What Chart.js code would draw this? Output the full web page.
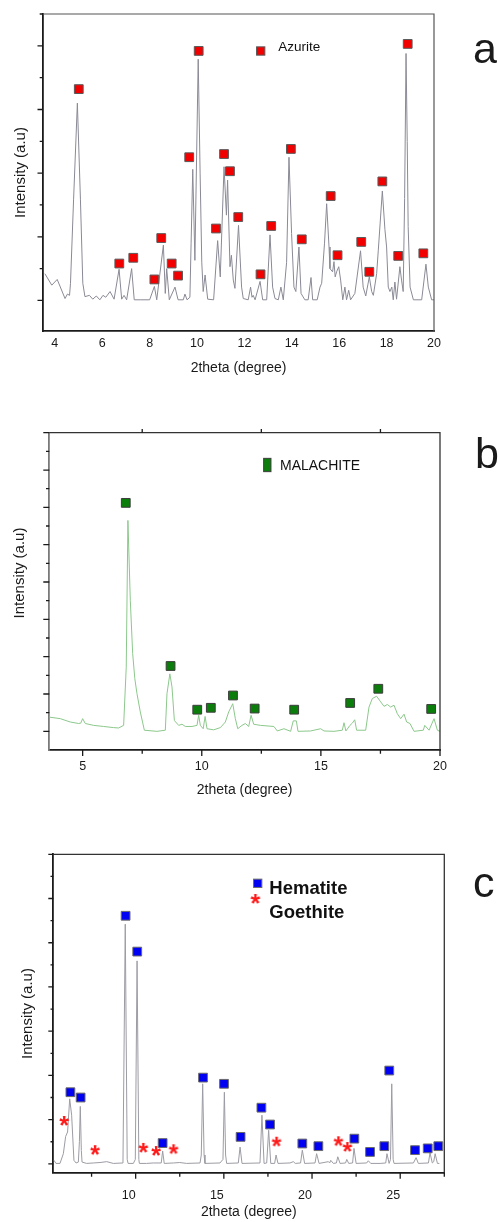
<!DOCTYPE html>
<html>
<head>
<meta charset="utf-8">
<title>XRD patterns</title>
<script src="https://cdn.jsdelivr.net/npm/chart.js@4.4.1/dist/chart.umd.min.js"></script>
<style>
  body { margin: 0; background: #fff; }
  #wrap { position: relative; width: 500px; height: 1222px; }
  canvas { position: absolute; left: 0; }
</style>
</head>
<body>
<div id="wrap">
  <canvas id="chartA" width="500" height="395" style="top:0"></canvas>
  <canvas id="chartB" width="500" height="420" style="top:395px"></canvas>
  <canvas id="chartC" width="500" height="407" style="top:815px"></canvas>
</div>
<script>
// ---- panel a : azurite ----
const azuriteTheta = [
  3.58, 3.87, 4.10, 4.43, 4.53, 4.62, 4.66, 4.79, 4.95, 5.08, 5.18, 5.27, 5.46, 5.60, 5.75, 5.90,
  6.03, 6.15, 6.33, 6.50, 6.71, 6.82, 6.92, 7.03, 7.24, 7.35, 7.60, 8.00, 8.20, 8.30, 8.58, 8.66,
  8.72, 8.83, 9.07, 9.20, 9.42, 9.49, 9.58, 9.70, 9.75, 9.82, 9.91, 10.05, 10.13, 10.20, 10.26, 10.34,
  10.45, 10.70, 10.87, 10.98, 11.14, 11.24, 11.29, 11.39, 11.45, 11.53, 11.60, 11.75, 11.88, 11.95, 12.16, 12.26,
  12.32, 12.37, 12.45, 12.66, 12.77, 12.94, 13.08, 13.19, 13.29, 13.43, 13.54, 13.64, 13.78, 13.88, 13.99, 14.09,
  14.17, 14.30, 14.39, 14.55, 14.69, 14.81, 14.88, 15.07, 15.19, 15.26, 15.38, 15.47, 15.57, 15.61, 15.72, 15.78,
  15.83, 15.89, 15.98, 16.06, 16.15, 16.24, 16.31, 16.40, 16.48, 16.66, 16.90, 17.01, 17.12, 17.27, 17.37, 17.44,
  17.58, 17.65, 17.82, 17.93, 18.00, 18.07, 18.14, 18.22, 18.28, 18.35, 18.42, 18.56, 18.63, 18.70, 18.76, 18.82,
  18.87, 18.91, 18.99, 19.13, 19.48, 19.66, 19.76, 19.90, 20.00
];
const azuriteCounts = [
  0.42, 0.24, 0.33, 0.03, 0.10, 0.08, 0.27, 1.58, 3.10, 1.58, 0.27, 0.06, 0.08, 0.02, 0.07, 0.01,
  0.08, 0.05, 0.14, 0.02, 0.49, 0.02, 0.08, 0.01, 0.50, 0.01, 0.01, 0.01, 0.22, 0.01, 0.87, 0.11,
  0.50, 0.01, 0.21, 0.01, 0.01, 0.10, 0.01, 0.05, 0.90, 2.06, 0.63, 3.79, 2.00, 0.60, 0.14, 0.40,
  0.02, 0.01, 0.94, 0.37, 2.10, 1.34, 1.89, 0.53, 0.71, 0.32, 0.19, 1.18, 0.21, 0.03, 0.01, 0.21,
  0.05, 0.08, 0.01, 0.30, 0.01, 0.01, 1.03, 0.21, 0.03, 0.01, 0.21, 0.01, 0.60, 2.25, 1.05, 0.21,
  0.14, 0.84, 0.11, 0.01, 0.01, 0.36, 0.01, 0.01, 0.21, 0.27, 0.90, 1.52, 0.84, 0.50, 0.45, 0.61,
  0.37, 0.45, 0.53, 0.32, 0.01, 0.21, 0.01, 0.16, 0.01, 0.11, 0.78, 0.21, 0.07, 0.37, 0.14, 0.08,
  0.42, 0.79, 1.72, 1.11, 0.84, 0.21, 0.14, 0.21, 0.01, 0.29, 0.02, 0.53, 0.32, 0.14, 1.60, 3.88,
  2.50, 1.16, 0.21, 0.01, 0.01, 0.57, 0.21, 0.01, 0.01
];
const azuriteMarkTheta = [5.01, 6.72, 7.31, 8.20, 8.49, 8.93, 9.20, 9.67, 10.07, 10.80, 11.14, 11.39, 11.74,
  12.68, 13.13, 13.96, 14.42, 15.64, 15.93, 16.93, 17.27, 17.82, 18.49, 18.89, 19.55];
const azuriteMarkCounts = [3.32, 0.58, 0.67, 0.33, 0.98, 0.58, 0.39, 2.25, 3.92, 1.13, 2.30, 2.03, 1.31,
  0.41, 1.17, 2.38, 0.96, 1.64, 0.71, 0.92, 0.45, 1.87, 0.70, 4.03, 0.74];

// ---- panel b : malachite ----
const malachiteTheta = [
  3.61, 4.06, 4.48, 4.83, 4.92, 5.00, 5.11, 5.46, 5.88, 6.30, 6.51, 6.72, 6.83, 6.90, 7.00, 7.10,
  7.19, 7.28, 7.42, 7.59, 8.12, 8.47, 8.54, 8.66, 8.75, 8.85, 9.03, 9.17, 9.31, 9.59, 9.80, 9.87,
  9.94, 10.06, 10.14, 10.22, 10.50, 10.78, 10.99, 11.13, 11.30, 11.41, 11.51, 11.69, 11.83, 11.97, 12.07, 12.18,
  12.46, 13.03, 13.17, 13.45, 13.73, 13.84, 13.97, 14.04, 14.57, 14.99, 15.13, 15.55, 15.90, 15.97, 16.05, 16.22,
  16.32, 16.42, 16.50, 16.88, 17.02, 17.16, 17.34, 17.51, 17.65, 17.79, 17.93, 18.07, 18.21, 18.35, 18.49, 18.60,
  18.74, 18.91, 19.30, 19.36, 19.54, 19.75, 19.89, 20.00
];
const malachiteCounts = [
  0.38, 0.34, 0.25, 0.21, 0.22, 0.34, 0.21, 0.16, 0.13, 0.10, 0.09, 0.16, 1.72, 5.65, 3.51, 2.08,
  1.41, 1.01, 0.52, 0.03, 0.00, 0.03, 1.01, 1.54, 1.19, 0.29, 0.16, 0.19, 0.13, 0.13, 0.16, 0.43,
  0.16, 0.07, 0.40, 0.07, 0.04, 0.10, 0.25, 0.52, 0.74, 0.34, 0.07, 0.16, 0.21, 0.13, 0.43, 0.19,
  0.16, 0.13, 0.01, 0.07, 0.00, 0.28, 0.28, 0.00, 0.01, 0.07, 0.01, 0.00, 0.03, 0.23, 0.01, 0.16,
  0.22, 0.31, 0.03, 0.03, 0.65, 0.88, 0.94, 0.79, 0.67, 0.72, 0.65, 0.70, 0.47, 0.34, 0.46, 0.25,
  0.21, 0.00, 0.03, 0.16, 0.03, 0.34, 0.03, 0.00
];
const malachiteMarkTheta = [6.81, 8.69, 9.81, 10.38, 11.31, 12.22, 13.88, 16.23, 17.41, 19.63];
const malachiteMarkCounts = [6.12, 1.75, 0.58, 0.63, 0.96, 0.61, 0.58, 0.76, 1.14, 0.60];

// ---- panel c : hematite / goethite ----
const ironTheta = [
  5.37, 5.48, 5.71, 5.90, 6.03, 6.14, 6.26, 6.37, 6.50, 6.62, 6.75, 6.81, 6.86, 6.92, 6.96, 7.22,
  7.60, 7.98, 8.36, 8.73, 9.28, 9.41, 9.52, 9.57, 9.87, 9.98, 10.08, 10.18, 10.21, 10.62, 11.00, 11.45,
  11.53, 11.62, 12.14, 12.50, 12.89, 13.65, 13.72, 13.80, 13.88, 13.93, 14.78, 14.95, 15.03, 15.10, 15.16, 15.82,
  15.92, 16.03, 17.05, 17.16, 17.28, 17.43, 17.54, 17.66, 17.88, 17.96, 18.07, 18.75, 18.94, 19.05, 19.35, 19.45,
  19.58, 20.17, 20.26, 20.40, 20.93, 21.00, 21.06, 21.21, 21.38, 21.46, 21.59, 21.90, 21.97, 22.08, 22.30, 22.38,
  22.50, 23.10, 23.19, 23.33, 23.86, 24.18, 24.25, 24.37, 24.45, 24.52, 24.60, 24.65, 25.75, 25.90, 26.03, 26.60,
  26.69, 26.82, 26.90, 26.98, 27.11, 27.22
];
const ironCounts = [
  0.08, 0.01, 0.01, 0.23, 0.62, 0.72, 1.47, 1.10, 0.08, 0.02, 0.04, 0.50, 1.30, 0.30, 0.04, 0.01,
  0.02, 0.03, 0.05, 0.01, 0.02, 5.42, 0.10, 0.01, 0.01, 0.10, 4.59, 0.10, 0.01, 0.01, 0.02, 0.02,
  0.29, 0.01, 0.02, 0.03, 0.01, 0.02, 0.20, 1.81, 0.20, 0.01, 0.02, 0.10, 1.62, 0.20, 0.01, 0.02,
  0.38, 0.01, 0.02, 1.10, 0.01, 0.02, 0.76, 0.01, 0.01, 0.20, 0.01, 0.02, 0.05, 0.01, 0.02, 0.31,
  0.01, 0.02, 0.23, 0.01, 0.05, 0.02, 0.08, 0.01, 0.02, 0.16, 0.01, 0.02, 0.10, 0.01, 0.02, 0.35,
  0.01, 0.02, 0.07, 0.01, 0.01, 0.02, 0.23, 0.01, 0.10, 1.81, 0.10, 0.01, 0.02, 0.14, 0.01, 0.02,
  0.25, 0.02, 0.05, 0.23, 0.01, 0.01
];
const hematiteTheta = [6.30, 6.88, 9.43, 10.09, 11.53, 13.82, 15.01, 15.95, 17.13, 17.62, 19.45, 20.36,
  22.40, 23.29, 24.10, 24.38, 25.84, 26.56, 27.16];
const hematiteCounts = [1.62, 1.50, 5.61, 4.80, 0.47, 1.95, 1.81, 0.61, 1.27, 0.89, 0.46, 0.40,
  0.57, 0.27, 0.40, 2.11, 0.31, 0.35, 0.40];
const goethiteTheta = [5.94, 7.69, 10.43, 11.15, 12.14, 17.98, 21.49, 22.00];
const goethiteCounts = [0.97, 0.31, 0.36, 0.29, 0.33, 0.50, 0.51, 0.38];

// ---- axis ticks ----
const xLabelsA = [4, 6, 8, 10, 12, 14, 16, 18, 20];
const xLabelsB = [5, 10, 15, 20];
const xLabelsC = [10, 15, 20, 25];
const xMarksB = [5, 7.5, 10, 12.5, 15, 17.5, 20];
const topMarksB = [7.5, 12.5, 17.5];
const xMarksC = [7.5, 10, 12.5, 15, 17.5, 20, 22.5, 25, 27.5];
const yMarksA = [0, 0.5, 1, 1.5, 2, 2.5, 3, 3.5, 4, 4.5];
const yMarksB = [0, 0.5, 1, 1.5, 2, 2.5, 3, 3.5, 4, 4.5, 5, 5.5, 6, 6.5, 7, 7.5, 8];
const yMarksC = [0, 0.5, 1, 1.5, 2, 2.5, 3, 3.5, 4, 4.5, 5, 5.5, 6, 6.5, 7];

const FONT = '"Liberation Sans", Arial, sans-serif';
Chart.defaults.font.family = FONT;
Chart.defaults.color = '#1a1a1a';

const pts = (xs, ys) => xs.map((x, i) => ({ x, y: ys[i] }));

// red asterisk used for goethite
function starGlyph(px, color) {
  const c = document.createElement('canvas');
  c.width = c.height = px;
  const g = c.getContext('2d');
  g.fillStyle = color;
  g.font = 'bold ' + Math.round(px * 1.75) + 'px ' + FONT;
  g.textAlign = 'center';
  g.textBaseline = 'alphabetic';
  const m = g.measureText('*');
  g.fillText('*', px / 2, px / 2 + (m.actualBoundingBoxAscent - m.actualBoundingBoxDescent) / 2);
  return c;
}
const star = starGlyph(14, '#ff1a1a');

// frame: top/right box lines, tick marks, in-plot legend and panel letter
const frame = {
  id: 'frame',
  afterDraw(chart, args, o) {
    const { ctx, chartArea: a } = chart;
    const sx = chart.scales.x, sy = chart.scales.y;
    ctx.save();
    ctx.strokeStyle = o.boxColor;
    ctx.lineWidth = o.boxWidth;
    ctx.beginPath();
    ctx.moveTo(a.left, a.top);
    ctx.lineTo(a.right, a.top);
    ctx.lineTo(a.right, a.bottom);
    ctx.stroke();

    ctx.strokeStyle = o.tickColor;
    ctx.lineWidth = 1.3;
    ctx.beginPath();
    o.yMarks.forEach(v => {
      const py = sy.getPixelForValue(v);
      const len = v % 1 === 0 ? o.yMajor : o.yMinor;
      ctx.moveTo(a.left - len, py);
      ctx.lineTo(a.left, py);
    });
    (o.xMarks || []).forEach(v => {
      const px = sx.getPixelForValue(v);
      const len = v % 5 === 0 ? o.xMajor : o.xMinor;
      ctx.moveTo(px, a.bottom);
      ctx.lineTo(px, a.bottom + len);
    });
    (o.topMarks || []).forEach(v => {
      const px = sx.getPixelForValue(v);
      ctx.moveTo(px, a.top);
      ctx.lineTo(px, a.top - o.xMinor);
    });
    ctx.stroke();

    (o.keys || []).forEach(k => {
      if (k.shape === 'star') {
        ctx.drawImage(star, k.x - star.width / 2, k.y - star.height / 2);
      } else {
        ctx.fillStyle = k.color;
        ctx.strokeStyle = k.edge;
        ctx.lineWidth = 1;
        ctx.fillRect(k.x - k.w / 2, k.y - k.h / 2, k.w, k.h);
        ctx.strokeRect(k.x - k.w / 2, k.y - k.h / 2, k.w, k.h);
      }
    });
    ctx.fillStyle = '#111';
    ctx.textBaseline = 'middle';
    ctx.textAlign = 'left';
    (o.texts || []).forEach(t => {
      ctx.font = t.font;
      ctx.fillText(t.text, t.x, t.y);
    });
    // y title placed off-centre (panel b only)
    if (o.yTitle) {
      ctx.save();
      ctx.translate(o.yTitle.x, o.yTitle.y);
      ctx.rotate(-Math.PI / 2);
      ctx.textAlign = 'center';
      ctx.textBaseline = 'middle';
      ctx.fillStyle = '#1a1a1a';
      ctx.font = '15px ' + FONT;
      ctx.fillText(o.yTitle.text, 0, 0);
      ctx.restore();
    }
    ctx.font = '43px ' + FONT;
    ctx.textBaseline = 'alphabetic';
    ctx.fillStyle = '#1a1a1a';
    ctx.fillText(o.letter, o.letterX, o.letterY);
    ctx.restore();
  }
};

function panel(id, p) {
  return new Chart(document.getElementById(id), {
    type: 'scatter',
    data: { datasets: p.datasets },
    options: {
      responsive: false,
      animation: false,
      events: [],
      layout: { padding: { top: p.area.top, right: p.width - p.area.right, left: 0, bottom: 0 } },
      scales: {
        x: {
          type: 'linear',
          min: p.xMin,
          max: p.xMax,
          afterFit: s => { s.height = p.height - p.area.bottom; },
          afterBuildTicks: s => { s.ticks = p.xLabels.map(v => ({ value: v })); },
          grid: { display: false, drawTicks: false },
          border: { display: true, color: p.bottomColor, width: p.axisWidth },
          ticks: { font: { size: 12.5 }, color: '#1a1a1a', padding: p.labelPad,
                   labelOffset: p.labelOffset || 0, maxRotation: 0 },
          title: { display: true, text: '2theta (degree)', font: { size: 14 }, color: '#1a1a1a',
                   padding: { top: 0, bottom: p.xTitlePad } }
        },
        y: {
          type: 'linear',
          min: p.yMin,
          max: p.yMax,
          afterFit: s => { s.width = p.area.left; },
          grid: { display: false, drawTicks: false },
          border: { display: true, color: p.leftColor, width: p.axisWidth },
          ticks: { display: false },
          title: { display: p.yTitlePad !== null, text: 'Intensity (a.u)', font: { size: 15 }, color: '#1a1a1a',
                   padding: { top: p.yTitlePad || 0, bottom: 0 } }
        }
      },
      plugins: {
        legend: { display: false },
        tooltip: { enabled: false },
        frame: p.frame
      }
    },
    plugins: [frame]
  });
}

const markerStyle = (fill, edge) => ({
  showLine: false, pointStyle: 'rect', pointRadius: 6.2, backgroundColor: fill,
  borderColor: edge, borderWidth: 1, clip: false
});
const traceStyle = color => ({
  showLine: true, pointRadius: 0, borderColor: color, borderWidth: 1, tension: 0
});

panel('chartA', {
  width: 500, height: 395,
  area: { left: 43, top: 14, right: 434, bottom: 331 },
  xMin: 3.5, xMax: 20, yMin: -0.48, yMax: 4.5,
  xLabels: xLabelsA, labelPad: 5, xTitlePad: 18, yTitlePad: 12,
  axisWidth: 1.8, bottomColor: '#1a1a1a', leftColor: '#1a1a1a',
  datasets: [
    { label: 'Azurite', data: pts(azuriteMarkTheta, azuriteMarkCounts), ...markerStyle('#f20000', '#5a5a5a') },
    { label: 'pattern', data: pts(azuriteTheta, azuriteCounts), ...traceStyle('#8a8a96') }
  ],
  frame: {
    boxColor: '#555', boxWidth: 1.2, tickColor: '#1a1a1a', yMarks: yMarksA, yMajor: 5.5, yMinor: 3.3,
    keys: [{ shape: 'rect', x: 260.7, y: 51, w: 8.3, h: 8.3, color: '#f20000', edge: '#5a5a5a' }],
    texts: [{ text: 'Azurite', x: 278.3, y: 47, font: '13.5px ' + FONT }],
    letter: 'a', letterX: 473, letterY: 63
  }
});

panel('chartB', {
  width: 500, height: 420,
  area: { left: 49.3, top: 37.7, right: 440, bottom: 355 },
  xMin: 3.6, xMax: 20, yMin: -0.5, yMax: 8,
  xLabels: xLabelsB, labelPad: 9, xTitlePad: 16.5, yTitlePad: null,
  axisWidth: 1.8, bottomColor: '#1a1a1a', leftColor: '#7a7a7a',
  datasets: [
    { label: 'MALACHITE', data: pts(malachiteMarkTheta, malachiteMarkCounts), ...markerStyle('#0a7d0a', '#3d3d3d') },
    { label: 'pattern', data: pts(malachiteTheta, malachiteCounts), ...traceStyle('#8cc88c') }
  ],
  frame: {
    boxColor: '#333', boxWidth: 1.3, tickColor: '#1a1a1a', yMarks: yMarksB, yMajor: 6, yMinor: 3.3,
    xMarks: xMarksB, topMarks: topMarksB, xMajor: 6, xMinor: 3.7,
    keys: [{ shape: 'rect', x: 267.3, y: 70, w: 7.3, h: 13.3, color: '#0a7d0a', edge: '#3d3d3d' }],
    texts: [{ text: 'MALACHITE', x: 280, y: 70.7, font: '14px ' + FONT }],
    yTitle: { text: 'Intensity (a.u)', x: 20, y: 178 },
    letter: 'b', letterX: 475, letterY: 73
  }
});

panel('chartC', {
  width: 500, height: 407,
  area: { left: 53.3, top: 39.3, right: 444.3, bottom: 357.7 },
  xMin: 5.33, xMax: 27.5, yMin: -0.2, yMax: 7,
  xLabels: xLabelsC, labelPad: 15, labelOffset: -7, xTitlePad: 1, yTitlePad: 19,
  axisWidth: 1.8, bottomColor: '#1a1a1a', leftColor: '#1a1a1a',
  datasets: [
    { label: 'Hematite', data: pts(hematiteTheta, hematiteCounts), ...markerStyle('#0000f2', '#6a6a6a') },
    { label: 'Goethite', data: pts(goethiteTheta, goethiteCounts), showLine: false, pointStyle: star, pointRadius: 7, clip: false },
    { label: 'pattern', data: pts(ironTheta, ironCounts), ...traceStyle('#9c9ca4') }
  ],
  frame: {
    boxColor: '#333', boxWidth: 1.3, tickColor: '#1a1a1a', yMarks: yMarksC, yMajor: 5, yMinor: 2.8,
    xMarks: xMarksC, xMajor: 6, xMinor: 4,
    keys: [
      { shape: 'rect', x: 257.7, y: 68.3, w: 8.3, h: 8.3, color: '#0000f2', edge: '#6a6a6a' },
      { shape: 'star', x: 255.3, y: 84 }
    ],
    texts: [
      { text: 'Hematite', x: 269.3, y: 74, font: 'bold 18.5px ' + FONT },
      { text: 'Goethite', x: 269.3, y: 97.7, font: 'bold 18.5px ' + FONT }
    ],
    letter: 'c', letterX: 473, letterY: 82
  }
});
</script>
</body>
</html>
